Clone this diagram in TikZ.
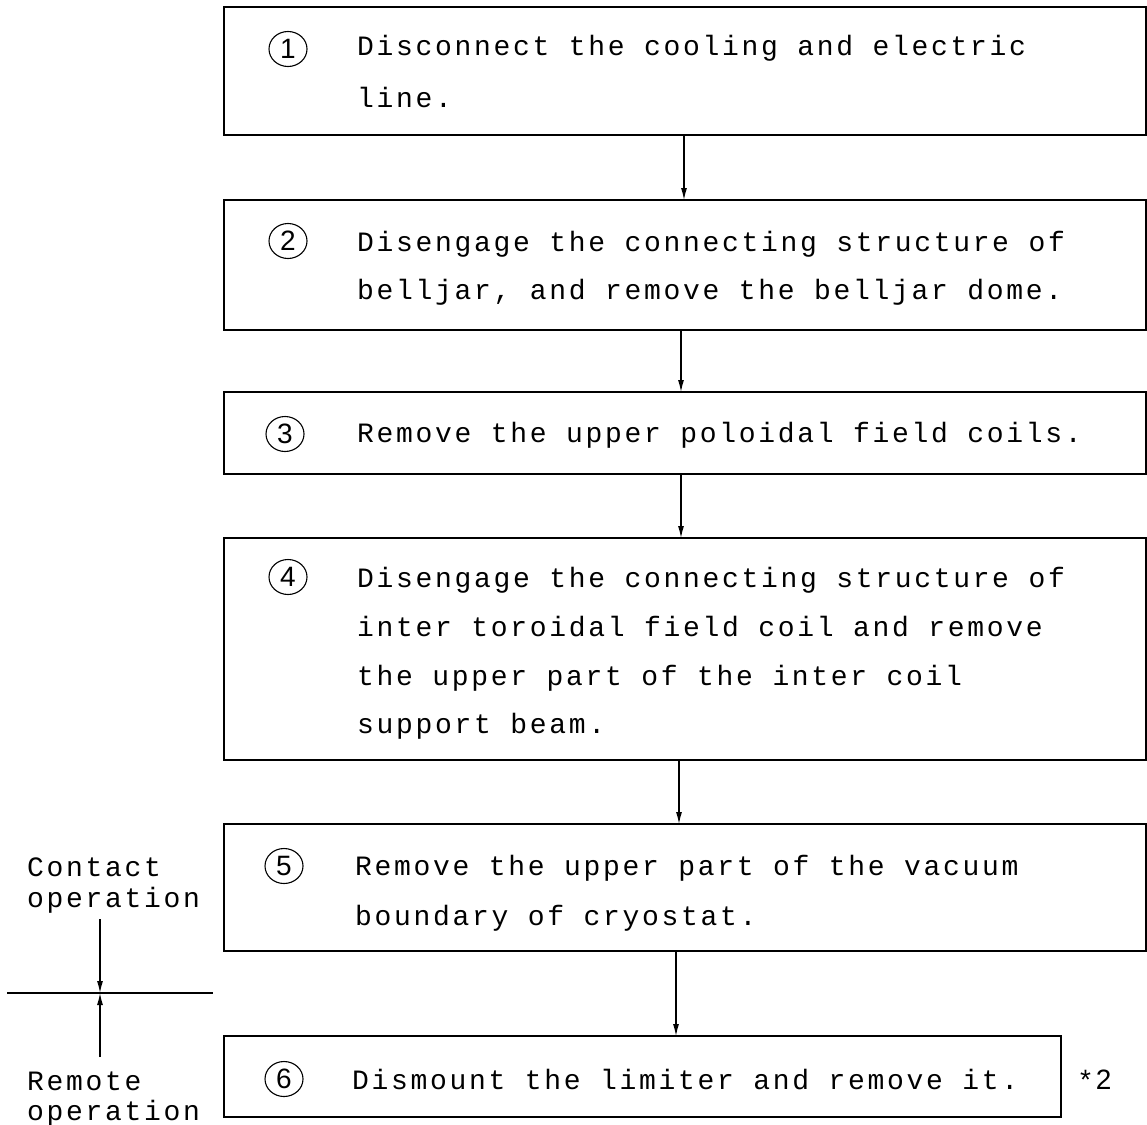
\documentclass[tikz,border=0pt]{standalone}
\usepackage{fontspec}
\usetikzlibrary{arrows.meta,shapes.geometric}
\newfontfamily\twfont[LetterSpace=9.6]{Liberation Mono}
\newfontfamily\numfont{Liberation Sans}
\begin{document}
\begin{tikzpicture}[x=1pt,y=-1pt,
  box/.style={draw, line width=1.4pt, rectangle, inner sep=0pt, outer sep=0pt},
  txt/.style={anchor=base west, inner sep=0pt, font=\twfont\fontsize{28}{28}\selectfont},
  num/.style={draw, ellipse, line width=1.1pt, minimum width=38pt, minimum height=35pt, inner sep=0pt, font=\numfont\fontsize{28}{28}\selectfont},
  arr/.style={line width=1.2pt, -{Latex[length=12pt,width=6pt]}},
  plain/.style={line width=1.2pt}
]
\useasboundingbox (0,0) rectangle (1147,1124);

% boxes
\node[box, minimum width=922pt, minimum height=128pt] (b1) at (685,71) {};
\node[box, minimum width=922pt, minimum height=130pt] (b2) at (685,265) {};
\node[box, minimum width=922pt, minimum height=82pt]  (b3) at (685,433) {};
\node[box, minimum width=922pt, minimum height=222pt] (b4) at (685,649) {};
\node[box, minimum width=922pt, minimum height=127pt] (b5) at (685,887.5) {};
\node[box, minimum width=837pt, minimum height=81pt]  (b6) at (642.5,1076.5) {};

% circled numbers
\node[num] (n1) at (288,49) {1};
\node[num] (n2) at (288,241) {2};
\node[num] (n3) at (285,434) {3};
\node[num] (n4) at (288,577) {4};
\node[num] (n5) at (284,866) {5};
\node[num] (n6) at (284,1079) {6};

% texts
\node[txt] (t1a) at (357,56) {Disconnect the cooling and electric};
\node[txt] (t1b) at (357,107) {line.};
\node[txt] (t2a) at (357,251) {Disengage the connecting structure of};
\node[txt] (t2b) at (357,299) {belljar, and remove the belljar dome.};
\node[txt] (t3a) at (357,442) {Remove the upper poloidal field coils.};
\node[txt] (t4a) at (357,587) {Disengage the connecting structure of};
\node[txt] (t4b) at (357,636) {inter toroidal field coil and remove};
\node[txt] (t4c) at (357,685) {the upper part of the inter coil};
\node[txt] (t4d) at (357,733) {support beam.};
\node[txt] (t5a) at (355,875) {Remove the upper part of the vacuum};
\node[txt] (t5b) at (355,925) {boundary of cryostat.};
\node[txt] (t6a) at (352,1089) {Dismount the limiter and remove it.};
\node[anchor=base west, inner sep=0pt, font=\numfont\fontsize{28}{28}\selectfont] (star) at (1080,1089) {*\,2};

% connectors
\draw[arr] ([xshift=-1pt]b1.south) -- ([xshift=-1pt]b2.north);
\draw[arr] ([xshift=-4pt]b2.south) -- ([xshift=-4pt]b3.north);
\draw[arr] ([xshift=-4pt]b3.south) -- ([xshift=-4pt]b4.north);
\draw[arr] ([xshift=-6pt]b4.south) -- ([xshift=-6pt]b5.north);
\draw[arr] ([xshift=-9pt]b5.south) -- ([xshift=33.5pt]b6.north);

% left side: contact / remote operation
\node[txt] (lc1) at (27,876) {Contact};
\node[txt] (lc2) at (27,907) {operation};
\node[txt] (lr1) at (27,1090) {Remote};
\node[txt] (lr2) at (27,1120) {operation};
\coordinate (ctop) at (100,919);
\coordinate (cmid) at (100,993);
\coordinate (cbot) at (100,1057);
\coordinate (hl) at (7,993);
\coordinate (hr) at (213,993);
\draw[plain] (hl) -- (hr);
\draw[arr] (ctop) -- (cmid);
\draw[arr] (cbot) -- (cmid);
\end{tikzpicture}
\end{document}
